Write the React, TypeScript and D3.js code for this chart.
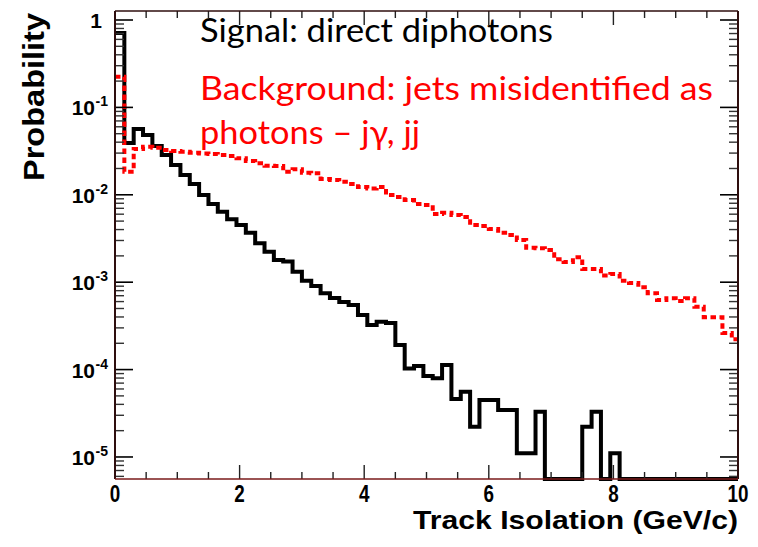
import React from "react";
import * as d3 from "d3";

// ---- data ----
const BIN_WIDTH = 0.15; // GeV/c
const X_MIN = 0;
const X_MAX = 10;
const SIGNAL = [
  0.71, 0.0392, 0.0566, 0.0483, 0.0362, 0.0285, 0.0219, 0.0169, 0.0133, 0.00995,
  0.00785, 0.00641, 0.00525, 0.00452, 0.00368, 0.00279, 0.00223, 0.0018, 0.00172, 0.00132,
  0.00104, 0.000905, 0.000747, 0.000659, 0.000593, 0.000548, 0.000421, 0.000324, 0.000353, 0.000341,
  0.000191, 0.000103, 0.00011, 0.0000845, 0.0000795, 0.000113, 0.0000461, 0.0000559, 0.0000222, 0.0000449,
  0.0000449, 0.0000345, 0.0000345, 0.000011, 0.000011, 0.000033, 0, 0, 0, 0,
  0.0000222, 0.000033, 0, 0.000011, 0, 0, 0, 0, 0, 0,
  0, 0, 0, 0, 0, 0, 0,
];
const BACKGROUND = [
  0.224, 0.0184, 0.0334, 0.0355, 0.0346, 0.0326, 0.0317, 0.0311, 0.0303, 0.0297,
  0.0293, 0.0285, 0.0278, 0.0262, 0.0244, 0.0229, 0.0215, 0.0214, 0.0184, 0.0196,
  0.0179, 0.0176, 0.0152, 0.0148, 0.0141, 0.0133, 0.0123, 0.0118, 0.0123, 0.00995,
  0.00944, 0.00873, 0.00785, 0.00764, 0.00603, 0.00624, 0.00587, 0.00557, 0.00451, 0.00439,
  0.00406, 0.00368, 0.00347, 0.00304, 0.00248, 0.00244, 0.00234, 0.00183, 0.0017, 0.00193,
  0.00142, 0.00142, 0.00119, 0.00124, 0.00104, 0.00098, 0.000875, 0.000747, 0.000625, 0.000654,
  0.000609, 0.000654, 0.000525, 0.000397, 0.000397, 0.000262, 0.000222,
];
const X_MAJOR_TICKS = [0, 2, 4, 6, 8, 10];
const X_MINOR_STEP = 0.5;
const Y_DECADES = [0, -1, -2, -3, -4, -5];
const Y_MIN_LOG = -5.252;
const Y_MAX_LOG = 0.103;
const TEXT_SIGNAL = "Signal: direct diphotons";
const TEXT_BG1 = "Background: jets misidentified as";
const TEXT_BG2 = "photons \u2013 j\u03b3, jj";
const X_TITLE = "Track Isolation (GeV/c)";
const Y_TITLE = "Probability";

// ---- layout ----
const W = 758;
const H = 547;
const L = 115;
const R = 738;
const T = 11;
const B = 479;

export default function App() {
  const x = d3.scaleLinear().domain([X_MIN, X_MAX]).range([L, R]);
  const y = d3
    .scaleLog()
    .domain([Math.pow(10, Y_MIN_LOG), Math.pow(10, Y_MAX_LOG)])
    .range([B, T]);
  const yMin = Math.pow(10, Y_MIN_LOG);

  const stepPoints = (vals: number[]) => {
    const pts: [number, number][] = vals.map((v, i) => [
      Math.min(i * BIN_WIDTH, X_MAX),
      Math.max(v, yMin),
    ]);
    const last = vals[vals.length - 1];
    pts.push([Math.min(vals.length * BIN_WIDTH, X_MAX), Math.max(last, yMin)]);
    return pts;
  };
  const line = d3
    .line<[number, number]>()
    .x((d) => x(d[0]))
    .y((d) => y(d[1]))
    .curve(d3.curveStepAfter);

  const sigPath = line(stepPoints(SIGNAL)) || "";
  const bgPath = line(stepPoints(BACKGROUND)) || "";

  // ticks
  const xMinor: number[] = d3.range(X_MIN, X_MAX + 1e-9, X_MINOR_STEP);
  const yMinor: number[] = [];
  for (let e = -6; e <= 0; e++) {
    for (let m = 2; m <= 9; m++) {
      const v = m * Math.pow(10, e);
      const lv = Math.log10(v);
      if (lv > Y_MIN_LOG && lv < Y_MAX_LOG) yMinor.push(v);
    }
  }

  const tickFont = "'Liberation Sans', Arial, sans-serif";
  const frameColor = "#2e0e0e";

  return (
    <svg
      width={W}
      height={H}
      style={{ position: "absolute", left: 0, top: 0, background: "#fff" }}
    >
      <rect x={0} y={0} width={W} height={H} fill="#fff" />
      {/* histograms */}
      <path d={sigPath} fill="none" stroke="#000" strokeWidth={4} strokeLinejoin="miter" />
      <path
        d={bgPath}
        fill="none"
        stroke="#ff0000"
        strokeWidth={4}
        strokeDasharray="5.5 3.5"
      />

      {/* x ticks bottom and top */}
      {xMinor.map((v, i) => {
        const major = X_MAJOR_TICKS.some((t) => Math.abs(t - v) < 1e-9);
        const len = major ? 14 : 7;
        return (
          <g key={"xt" + i} stroke="#222" strokeWidth={1.4}>
            <line x1={x(v)} x2={x(v)} y1={B} y2={B - len} />
            <line x1={x(v)} x2={x(v)} y1={T} y2={T + len} />
          </g>
        );
      })}
      {/* y ticks left and right */}
      {Y_DECADES.map((e) => (
        <g key={"ym" + e} stroke="#000" strokeWidth={1.6}>
          <line x1={L} x2={L + 18} y1={y(Math.pow(10, e))} y2={y(Math.pow(10, e))} />
          <line x1={R} x2={R - 18} y1={y(Math.pow(10, e))} y2={y(Math.pow(10, e))} />
        </g>
      ))}
      {yMinor.map((v, i) => (
        <g key={"yn" + i} stroke="#333" strokeWidth={1.4}>
          <line x1={L} x2={L + 9} y1={y(v)} y2={y(v)} />
          <line x1={R} x2={R - 9} y1={y(v)} y2={y(v)} />
        </g>
      ))}

      {/* frame */}
      <line x1={L} x2={R} y1={T} y2={T} stroke={frameColor} strokeWidth={1.5} />
      <line x1={L} x2={L} y1={T} y2={B} stroke={frameColor} strokeWidth={2} />
      <line x1={R} x2={R} y1={T} y2={B} stroke={frameColor} strokeWidth={2} />
      <line x1={L} x2={R} y1={B} y2={B} stroke="#7a1a1a" strokeWidth={1.5} />

      {/* x tick labels */}
      {X_MAJOR_TICKS.map((t) => (
        <g key={"xl" + t} transform={`translate(${x(t)},502) scale(0.82,1)`}>
          <text
            x={0}
            y={0}
            textAnchor="middle"
            fontFamily={tickFont}
            fontWeight="bold"
            fontSize={23}
            fill="#000"
          >
            {t}
          </text>
        </g>
      ))}
      {/* y tick labels */}
      {Y_DECADES.map((e) => {
        const yy = y(Math.pow(10, e));
        if (e === 0)
          return (
            <text
              key={"yl" + e}
              x={102}
              y={yy + 8}
              textAnchor="end"
              fontFamily={tickFont}
              fontWeight="bold"
              fontSize={21}
            >
              1
            </text>
          );
        return (
          <g key={"yl" + e} fontFamily={tickFont} fontWeight="bold">
            <text x={95} y={yy + 8} textAnchor="end" fontSize={21}>
              10
            </text>
            <text x={95.5} y={yy - 1} textAnchor="start" fontSize={14}>
              {"-" + -e}
            </text>
          </g>
        );
      })}

      {/* axis titles */}
      <text
        x={738}
        y={529}
        textAnchor="end"
        fontFamily={tickFont}
        fontWeight="bold"
        fontSize={25}
        textLength={325}
        lengthAdjust="spacingAndGlyphs"
      >
        {X_TITLE}
      </text>
      <text
        transform="translate(44,13) rotate(-90)"
        textAnchor="end"
        fontFamily={tickFont}
        fontWeight="bold"
        fontSize={29}
        textLength={168}
        lengthAdjust="spacingAndGlyphs"
      >
        {Y_TITLE}
      </text>

      {/* annotations */}
      <text
        x={200}
        y={42}
        fontFamily="Lato, 'Open Sans', sans-serif"
        fontSize={32}
        fill="#000"
        textLength={353}
        lengthAdjust="spacingAndGlyphs"
      >
        {TEXT_SIGNAL}
      </text>
      <text
        x={200}
        y={100}
        fontFamily="Lato, 'Open Sans', sans-serif"
        fontSize={32}
        fill="#ff0000"
        textLength={513}
        lengthAdjust="spacingAndGlyphs"
      >
        {TEXT_BG1}
      </text>
      <text
        x={200}
        y={143.5}
        fontFamily="Lato, 'Open Sans', sans-serif"
        fontSize={32}
        fill="#ff0000"
        textLength={220}
        lengthAdjust="spacingAndGlyphs"
      >
        {TEXT_BG2}
      </text>
    </svg>
  );
}
